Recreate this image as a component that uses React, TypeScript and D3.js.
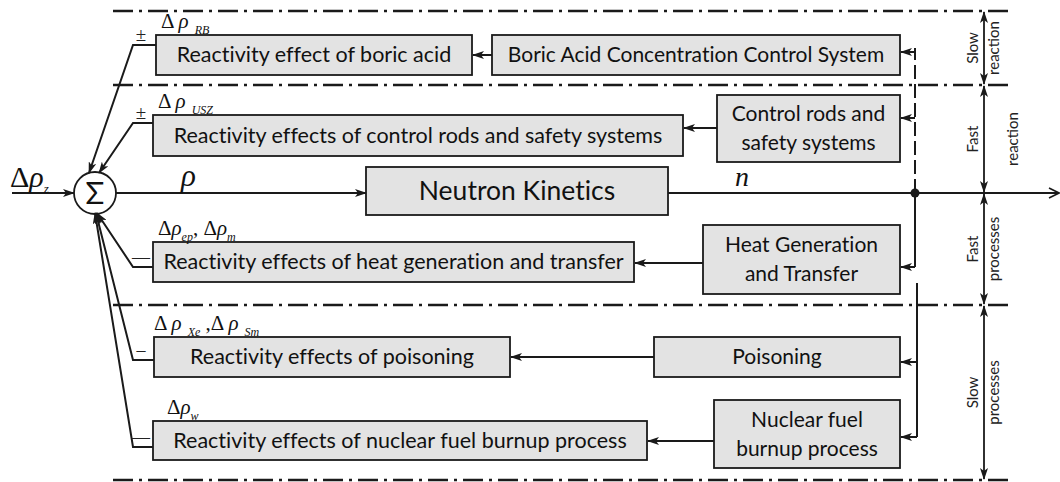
import React from 'react';
import * as d3 from 'd3';

// text content of the diagram
const effectLabels = [
  "Reactivity effect of boric acid",
  "Reactivity effects of control rods and safety systems",
  "Reactivity effects of heat generation and transfer",
  "Reactivity effects of poisoning",
  "Reactivity effects of nuclear fuel burnup process"
];
const sourceLabels = [
  ["Boric Acid Concentration Control System"],
  ["Control rods and", "safety systems"],
  ["Heat Generation", "and Transfer"],
  ["Poisoning"],
  ["Nuclear fuel", "burnup process"]
];
const signs = ["±", "±", "\u2014", "\u2013", "\u2014"];
// delta rho labels: [prefix, subscript] pairs
const deltaLabels = [
  [["Δ ", "RB"]],
  [["Δ ", "USZ"]],
  [["Δ", "ep"], [", Δ", "m"]],
  [["Δ ", "Xe"], [" ,Δ ", "Sm"]],
  [["Δ", "w"]]
];
const zoneLabels = [
  ["Slow", "reaction"],
  ["Fast", "reaction"],
  ["Fast", "processes"],
  ["Slow", "processes"]
];

// layout (pixels)
const W = 1060, H = 482;
const effectBoxes = [[156, 472, 35, 75], [153, 683, 115, 156], [153, 634, 242, 282], [154, 510, 337, 377], [153, 647, 421, 460]];
const sourceBoxes = [[492, 900, 35, 75], [717, 900, 95, 162], [703, 900, 225, 294], [654, 900, 337, 377], [714, 900, 400, 468]];
const arrowYs = [55, 128, 263, 357, 441];
const feedYs = [52, 118, 267, 362, 437];
const stubYs = [45, 123, 267, 360, 447];
const zoneLines = [11, 85, 305, 480];
const zoneBounds = [11, 85, 193, 305, 480];
const mainY = 193;
const sum = { x: 95, y: 193, r: 21 };
const nk = [366, 668, 167, 215];
const junctionX = 915;
const zoneX = 984;

const sans = "Lato, 'Open Sans', sans-serif";
const serif = "'Liberation Serif', 'DejaVu Serif', serif";
const noLig = { fontVariantLigatures: 'none' as const };

function App() {
  const line = d3.line();
  const fill = "#e3e3e3";
  const stroke = "#1a1a1a";

  return (
    <svg width={W} height={H} style={{ position: 'absolute', left: 0, top: 0, background: '#fff' }}>
      <defs>
        <marker id="ah" viewBox="0 0 12 8" refX="11" refY="4" markerWidth="12" markerHeight="8" markerUnits="userSpaceOnUse" orient="auto-start-reverse">
          <path d="M0,0 L12,4 L0,8 L3,4 z" fill={stroke} />
        </marker>
        <marker id="ao" viewBox="0 0 12 12" refX="11" refY="6" markerWidth="12" markerHeight="12" markerUnits="userSpaceOnUse" orient="auto">
          <path d="M1,1 L11,6 L1,11" fill="none" stroke={stroke} strokeWidth="1.6" />
        </marker>
      </defs>

      {/* dash-dot zone separators */}
      {zoneLines.map((y, i) => (
        <line key={i} x1={113} x2={1013} y1={y} y2={y} stroke={stroke} strokeWidth={2.4} strokeDasharray="20 6 3 6" />
      ))}

      {/* zone double arrows and labels */}
      {zoneLabels.map((lab, i) => {
        const y0 = zoneBounds[i], y1 = zoneBounds[i + 1];
        const cy = (y0 + y1) / 2;
        const x2 = i === 1 ? 1018 : 999;
        return (
          <g key={i}>
            <line x1={zoneX} x2={zoneX} y1={y0 + 1} y2={y1 - 1} stroke={stroke} strokeWidth={1.8}
              markerStart="url(#ah)" markerEnd="url(#ah)" />
            <text transform={`translate(${978},${cy}) rotate(-90)`} textAnchor="middle" fontFamily={sans} fontSize={15} fill="#222">{lab[0]}</text>
            <text transform={`translate(${x2},${cy}) rotate(-90)`} textAnchor="middle" fontFamily={sans} fontSize={15} fill="#222">{lab[1]}</text>
          </g>
        );
      })}

      {/* effect boxes */}
      {effectLabels.map((t, i) => {
        const [x0, x1, y0, y1] = effectBoxes[i];
        return (
          <g key={i}>
            <rect x={x0} y={y0} width={x1 - x0} height={y1 - y0} fill={fill} stroke={stroke} strokeWidth={1.8} />
            <text x={(x0 + x1) / 2} y={(y0 + y1) / 2 + 7} textAnchor="middle" fontFamily={sans} fontSize={21.5} fill="#111" style={noLig}>{t}</text>
          </g>
        );
      })}

      {/* source boxes */}
      {sourceLabels.map((lines, i) => {
        const [x0, x1, y0, y1] = sourceBoxes[i];
        const cy = (y0 + y1) / 2;
        return (
          <g key={i}>
            <rect x={x0} y={y0} width={x1 - x0} height={y1 - y0} fill={fill} stroke={stroke} strokeWidth={1.8} />
            {lines.map((l, j) => (
              <text key={j} x={(x0 + x1) / 2} y={cy + 7 + (j - (lines.length - 1) / 2) * 29} textAnchor="middle" fontFamily={sans} fontSize={21} fill="#111" style={noLig}>{l}</text>
            ))}
            {/* source -> effect arrow */}
            <path d={line([[x0, arrowYs[i]], [effectBoxes[i][1] + 1, arrowYs[i]]]) ?? ''} stroke={stroke} strokeWidth={2} fill="none" markerEnd="url(#ah)" />
          </g>
        );
      })}

      {/* Neutron kinetics */}
      <rect x={nk[0]} y={nk[2]} width={nk[1] - nk[0]} height={nk[3] - nk[2]} fill={fill} stroke={stroke} strokeWidth={1.8} />
      <text x={(nk[0] + nk[1]) / 2} y={(nk[2] + nk[3]) / 2 + 9} textAnchor="middle" fontFamily={sans} fontSize={26.5} fill="#111" style={noLig}>Neutron Kinetics</text>

      {/* main signal path */}
      <path d={line([[12, mainY], [sum.x - sum.r, mainY]]) ?? ''} stroke={stroke} strokeWidth={2} markerEnd="url(#ah)" />
      <path d={line([[sum.x + sum.r, mainY], [nk[0], mainY]]) ?? ''} stroke={stroke} strokeWidth={2} markerEnd="url(#ah)" />
      <path d={line([[nk[1], mainY], [W - 1, mainY]]) ?? ''} stroke={stroke} strokeWidth={2} markerEnd="url(#ao)" />
      <circle cx={junctionX} cy={mainY} r={4.5} fill={stroke} />

      {/* sum node */}
      <circle cx={sum.x} cy={sum.y} r={sum.r} fill="#fff" stroke={stroke} strokeWidth={1.8} />
      <text x={sum.x} y={sum.y + 11} textAnchor="middle" fontFamily={sans} fontSize={31} fill="#111">Σ</text>

      {/* Greek labels on main path */}
      <text x={10} y={187} fontFamily={serif} fontSize={30} fill="#111">Δ<tspan fontStyle="italic">ρ</tspan><tspan fontStyle="italic" fontSize={13} dy={6}>z</tspan></text>
      <text x={181} y={186} fontFamily={serif} fontSize={31} fontStyle="italic" fill="#111">ρ</text>
      <text x={735} y={186} fontFamily={serif} fontSize={28} fontStyle="italic" fill="#111">n</text>

      {/* feedback bus */}
      <line x1={junctionX} x2={junctionX} y1={mainY} y2={48} stroke={stroke} strokeWidth={2} strokeDasharray="14 5" />
      <line x1={junctionX} x2={junctionX} y1={mainY} y2={feedYs[2]} stroke={stroke} strokeWidth={2} />
      <line x1={junctionX + 2} x2={junctionX + 2} y1={283} y2={feedYs[4]} stroke={stroke} strokeWidth={2} />
      {feedYs.map((y, i) => {
        const bx = i < 3 ? junctionX : junctionX + 2;
        return <path key={i} d={line([[bx, y], [sourceBoxes[i][1] + 1, y]]) ?? ''} stroke={stroke} strokeWidth={2} fill="none" markerEnd="url(#ah)" />;
      })}

      {/* feedback into sum */}
      {stubYs.map((y, i) => {
        const x0 = effectBoxes[i][0];
        const kx = 133;
        const up = i < 2;
        const tx = up ? sum.x + (i === 0 ? -6 : 4) : sum.x + (i - 2) * -1 + 2;
        const ty = up ? sum.y - sum.r + 1 : sum.y + sum.r - 1;
        return (
          <g key={i}>
            <path d={line([[x0, y], [kx, y], [tx, ty]]) ?? ''} stroke={stroke} strokeWidth={2} fill="none" markerEnd="url(#ah)" />
            <text x={141} y={y - 4} textAnchor="middle" fontFamily={serif} fontSize={i < 2 ? 19 : 18} fill="#222">{signs[i]}</text>
          </g>
        );
      })}

      {/* delta labels above effect boxes */}
      {deltaLabels.map((parts, i) => {
        const [x0, , y0] = effectBoxes[i];
        const spaced = i === 0 || i === 1 || i === 3;
        return (
          <text key={i} x={x0 + (i === 3 ? 0 : i === 4 ? 14 : 5)} y={y0 - 7} fontFamily={serif} fontSize={21} fill="#111">
            {parts.map((p, j) => (
              <React.Fragment key={j}>
                <tspan dy={j === 0 ? 0 : -6}>{p[0]}</tspan>
                <tspan fontStyle="italic">ρ</tspan>
                <tspan fontStyle="italic" fontSize={12} dy={6}>{(spaced ? "\u2002" : "") + p[1]}</tspan>
              </React.Fragment>
            ))}
          </text>
        );
      })}
    </svg>
  );
}

export default App;
